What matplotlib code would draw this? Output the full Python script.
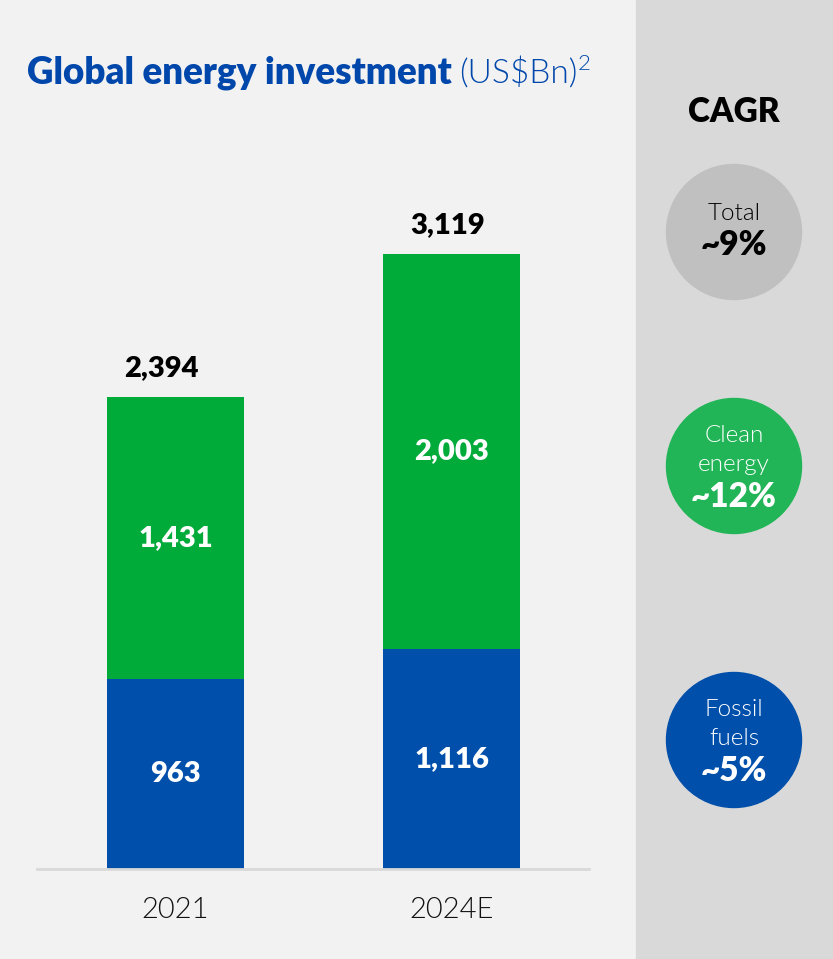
import matplotlib
matplotlib.use("Agg")
import matplotlib.pyplot as plt
from matplotlib.patches import Circle, Rectangle

categories = ["2021", "2024E"]
fossil = [963, 1116]
clean = [1431, 2003]
totals = [2394, 3119]
cagr_labels = ["Total", "Clean\nenergy", "Fossil\nfuels"]
cagr_values = ["~9%", "~12%", "~5%"]

BLUE = "#004fab"
GREEN = "#00ab39"
CGREEN = "#22b557"
CGRAY = "#c0c0c0"
FONT = "Lato"
LIGHT = 300

W, H = 833, 959
fig = plt.figure(figsize=(W / 100, H / 100), dpi=100)
fig.patch.set_facecolor("#f2f2f2")

# background overlay axes in pixel coords
bg = fig.add_axes([0, 0, 1, 1])
bg.set_xlim(0, W)
bg.set_ylim(H, 0)
bg.axis("off")
bg.add_patch(Rectangle((636, 0), W - 636, H, color="#d9d9d9", zorder=0))

# main chart
left, right, base, top = 37, 589, 869, 150
ax = fig.add_axes([left / W, (H - base) / H, (right - left) / W, (base - top) / H])
ax.set_facecolor("none")
x = list(range(len(categories)))
ax.bar(x, fossil, width=0.497, color=BLUE, zorder=2)
ax.bar(x, clean, bottom=fossil, width=0.497, color=GREEN, zorder=2)
ax.set_xlim(-0.502, 1.498)
ax.set_ylim(0, 3646)
for s in ["top", "right", "left"]:
    ax.spines[s].set_visible(False)
ax.spines["bottom"].set_color("#d9d9d9")
ax.spines["bottom"].set_linewidth(2)
ax.set_yticks([])
ax.set_xticks(x)
ax.set_xticklabels(categories, fontsize=21, fontfamily=FONT, fontweight=LIGHT,
                   color="#111111")
ax.tick_params(axis="x", length=0, pad=20)

total_dx = [-0.05, -0.013]
for i in x:
    ax.text(i, fossil[i] / 2, f"{fossil[i]:,}", ha="center", va="center",
            color="white", fontsize=21, fontweight="heavy", fontfamily=FONT)
    ax.text(i, fossil[i] + clean[i] / 2, f"{clean[i]:,}", ha="center", va="center",
            color="white", fontsize=21, fontweight="heavy", fontfamily=FONT)
    ax.text(i + total_dx[i], totals[i] + 80, f"{totals[i]:,}", ha="center",
            va="bottom", color="black", fontsize=21, fontweight="heavy",
            fontfamily=FONT)

# title
fig.canvas.draw()
r = fig.canvas.get_renderer()
t1 = bg.text(27, 83, "Global energy investment", color="#0047ab", fontsize=26.5,
             fontweight="heavy", fontfamily=FONT, ha="left", va="baseline")
bb = t1.get_window_extent(renderer=r)
x1 = bb.x1 + 7
t2 = bg.text(x1, 83, "(US\\$Bn)", color="#0047ab", fontsize=24,
             fontweight=LIGHT, fontfamily=FONT, ha="left", va="baseline")
bb2 = t2.get_window_extent(renderer=r)
bg.text(bb2.x1 + 1, 70, "2", color="#0047ab", fontsize=16,
        fontweight=LIGHT, fontfamily=FONT, ha="left", va="baseline")

# CAGR panel
cx = 734
bg.text(cx, 112, "CAGR", ha="center", va="center", fontsize=24,
        fontweight="heavy", fontfamily=FONT, color="black")
centers = [232, 466, 740]
fills = [CGRAY, CGREEN, BLUE]
tcolors = ["black", "white", "white"]
for cy, fc, tc, lab, val in zip(centers, fills, tcolors, cagr_labels, cagr_values):
    bg.add_patch(Circle((cx, cy), 67.5, color=fc, zorder=2))
    nlines = lab.count("\n") + 1
    if nlines == 1:
        ly, vy = cy - 19, cy + 13
    else:
        ly, vy = cy - 16, cy + 31
    bg.text(cx, ly, lab, ha="center", va="center", fontsize=17.5, fontweight=LIGHT,
            fontfamily=FONT, color=tc, zorder=3, linespacing=1.45)
    bg.text(cx, vy, val, ha="center", va="center", fontsize=24, fontweight="heavy",
            fontfamily=FONT, color=tc, zorder=3)

fig.savefig("out.png", dpi=100, facecolor=fig.get_facecolor())
